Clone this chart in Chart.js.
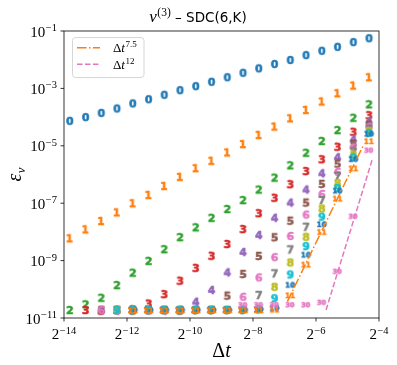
<!DOCTYPE html>
<html>
<head>
<meta charset="utf-8">
<script src="https://cdn.jsdelivr.net/npm/chart.js@4.4.0/dist/chart.umd.min.js"></script>
<style>
  html, body { margin: 0; padding: 0; background: #fff; }
  #chart { display: block; }
</style>
</head>
<body>
<canvas id="chart" width="397" height="365"></canvas>
<script>
// time step sizes (x axis)
const dtValues = [6.9e-5, 9.77e-5, 1.38e-4, 1.95e-4, 2.76e-4, 3.91e-4, 5.52e-4, 7.81e-4, 1.105e-3, 1.5625e-3,
  2.21e-3, 3.125e-3, 4.42e-3, 6.25e-3, 8.84e-3, 0.0125, 0.0177, 0.025, 0.0354, 0.05];

// error per sweep count K (null = not computed)
const err0 = [7.4e-5, 1.0e-4, 1.4e-4, 2.0e-4, 3.0e-4, 4.2e-4, 6.0e-4, 8.7e-4, 1.2e-3, 1.7e-3,
  2.45e-3, 3.5e-3, 5.0e-3, 7.1e-3, 9.8e-3, 1.45e-2, 2.05e-2, 2.8e-2, 4.1e-2, 5.6e-2];
const err1 = [6.0e-9, 1.23e-8, 2.4e-8, 4.8e-8, 1.0e-7, 1.95e-7, 4.0e-7, 8.3e-7, 1.66e-6, 3.0e-6,
  5.9e-6, 1.15e-5, 2.4e-5, 4.7e-5, 9.1e-5, 1.78e-4, 3.5e-4, 6.8e-4, 1.26e-3, 2.45e-3];
const err2 = [1.9e-11, 3.0e-11, 5.1e-11, 1.41e-10, 3.8e-10, 9.8e-10, 2.5e-9, 6.6e-9, 1.45e-8, 3.1e-8,
  6.3e-8, 1.29e-7, 3.0e-7, 7.8e-7, 2.1e-6, 5.75e-6, 1.48e-5, 3.55e-5, 9.5e-5, 2.8e-4];
const err3 = [null, 1.9e-11, 1.8e-11, 1.9e-11, 2.0e-11, 3.2e-11, 6.8e-11, 2.0e-10, 5.6e-10, 1.48e-9,
  3.8e-9, 1.26e-8, 4.5e-8, 1.55e-7, 4.6e-7, 1.32e-6, 3.4e-6, 9.3e-6, 3.1e-5, 1.17e-4];
const err4 = [null, null, 1.9e-11, 1.8e-11, 1.9e-11, 1.9e-11, 1.8e-11, 1.9e-11, 3.7e-11, 9.5e-11,
  3.9e-10, 2.0e-9, 7.8e-9, 3.1e-8, 1.05e-7, 3.0e-7, 1.1e-6, 4.0e-6, 1.66e-5, 7.1e-5];
const err5 = [null, null, 1.9e-11, 1.9e-11, 1.8e-11, 1.9e-11, 1.9e-11, 1.8e-11, 1.9e-11, 1.9e-11,
  6.0e-11, 3.4e-10, 1.45e-9, 6.5e-9, 2.45e-8, 1.05e-7, 4.7e-7, 2.4e-6, 1.2e-5, 5.5e-5];
const err6 = [null, null, 1.9e-11, 1.9e-11, 1.9e-11, 1.8e-11, 1.9e-11, 1.9e-11, 1.9e-11, 1.9e-11,
  1.9e-11, 5.5e-11, 2.6e-10, 1.32e-9, 7.2e-9, 4.0e-8, 2.1e-7, 1.23e-6, 8.7e-6, 4.6e-5];
const err7 = [null, null, null, 1.9e-11, 1.9e-11, 1.9e-11, 1.9e-11, 1.9e-11, 1.9e-11, 1.9e-11,
  1.9e-11, 1.9e-11, 6.3e-11, 3.6e-10, 2.45e-9, 1.51e-8, 1.29e-7, 8.9e-7, 6.3e-6, 3.9e-5];
const err8 = [null, null, null, 1.9e-11, 1.9e-11, 1.9e-11, 1.9e-11, 1.9e-11, 1.9e-11, 1.9e-11,
  1.9e-11, 2.0e-11, 2.1e-11, 1.23e-10, 8.7e-10, 6.8e-9, 6.6e-8, 5.1e-7, 5.0e-6, 3.3e-5];
const err9 = [null, null, null, 1.9e-11, 1.9e-11, 1.9e-11, 1.9e-11, 1.9e-11, 1.9e-11, 1.9e-11,
  1.9e-11, 1.9e-11, 2.0e-11, 4.9e-11, 3.3e-10, 3.2e-9, 3.4e-8, 3.4e-7, 4.0e-6, 2.8e-5];
const err10 = [null, null, null, null, 1.9e-11, 1.9e-11, 1.9e-11, 1.9e-11, 1.9e-11, 1.9e-11,
  1.9e-11, 1.9e-11, 2.0e-11, 2.2e-11, 1.41e-10, 1.58e-9, 1.82e-8, 2.7e-7, 3.4e-6, 2.6e-5];
const err11 = [null, null, null, null, 1.9e-11, 1.9e-11, 1.9e-11, 1.9e-11, 1.9e-11, 1.9e-11,
  1.9e-11, 1.9e-11, 1.9e-11, 2.0e-11, 6.3e-11, 7.4e-10, 1.02e-8, 1.48e-7, 1.66e-6, 1.48e-5];
const err30 = [null, null, null, null, null, null, null, null, null, null,
  null, 2.8e-11, 2.8e-11, 2.8e-11, 2.8e-11, 2.8e-11, 3.4e-11, 4.1e-10, 3.4e-8, 6.8e-6];

const sweepLabels = ['0', '1', '2', '3', '4', '5', '6', '7', '8', '9', '10', '11', '30'];
const sweepErrors = [err0, err1, err2, err3, err4, err5, err6, err7, err8, err9, err10, err11, err30];
const sweepColors = ['#1f77b4', '#ff7f0e', '#2ca02c', '#d62728', '#9467bd', '#8c564b', '#e377c2',
  '#7f7f7f', '#bcbd22', '#17becf', '#1f77b4', '#ff7f0e', '#e377c2'];

// reference slopes
const refDt75 = [0.00831, 0.0439];
const refErr75 = [3.7e-11, 9.8e-6];
const refDt12 = [0.0195, 0.0537];
const refErr12 = [1.9e-11, 3.2e-6];

// tick exponents
const xTickExps = [-14, -12, -10, -8, -6, -4];
const yTickExps = [-1, -3, -5, -7, -9, -11];

const SERIF = '"Liberation Serif", serif';
const SANS = '"DejaVu Sans", sans-serif';

// text markers like matplotlib's "$0$"
function makeMarker(label, color) {
  const probe = document.createElement('canvas').getContext('2d');
  probe.font = 'bold 10px ' + SANS;
  const m0 = probe.measureText(label);
  const w0 = m0.actualBoundingBoxLeft + m0.actualBoundingBoxRight;
  const h0 = m0.actualBoundingBoxAscent + m0.actualBoundingBoxDescent;
  const target = label.length > 1 ? 9.4 : 8.6;
  const size = 10 * target / Math.max(w0, h0);
  const font = 'bold ' + size.toFixed(2) + 'px ' + SANS;
  probe.font = font;
  const m = probe.measureText(label);
  const w = m.actualBoundingBoxLeft + m.actualBoundingBoxRight;
  const h = m.actualBoundingBoxAscent + m.actualBoundingBoxDescent;
  const c = document.createElement('canvas');
  c.width = Math.ceil(w + 4);
  c.height = Math.ceil(h + 4);
  const g = c.getContext('2d');
  g.font = font;
  g.fillStyle = color;
  g.strokeStyle = color;
  g.lineWidth = 0.6;
  g.lineJoin = 'round';
  const tx = (c.width - w) / 2 + m.actualBoundingBoxLeft;
  const ty = (c.height - h) / 2 + m.actualBoundingBoxAscent;
  g.fillText(label, tx, ty);
  g.strokeText(label, tx, ty);
  return c;
}

function drawRuns(ctx, parts, x, y, align) {
  let w = 0;
  parts.forEach(p => { ctx.font = p.font; p.w = ctx.measureText(p.text).width; w += p.w + (p.gap || 0); });
  let cx = align === 'right' ? x - w : align === 'center' ? x - w / 2 : x;
  ctx.textAlign = 'left';
  ctx.textBaseline = 'alphabetic';
  parts.forEach(p => {
    ctx.font = p.font;
    cx += (p.gap || 0);
    ctx.fillText(p.text, cx, y + (p.dy || 0));
    cx += p.w;
  });
}

const datasets = sweepLabels.map((lab, i) => ({
  label: lab,
  data: dtValues.map((x, k) => ({ x: x, y: sweepErrors[i][k] })).filter(p => p.y !== null),
  pointStyle: makeMarker(lab, sweepColors[i]),
  pointRadius: 4,
  showLine: false,
  order: 20 - i
}));

datasets.push({
  label: 'dt^7.5',
  data: refDt75.map((x, k) => ({ x: x, y: refErr75[k] })),
  showLine: true, pointRadius: 0,
  borderColor: '#ff7f0e', borderWidth: 1.5, borderDash: [9.6, 2.4, 1.5, 2.4],
  order: 1
});
datasets.push({
  label: 'dt^12',
  data: refDt12.map((x, k) => ({ x: x, y: refErr12[k] })),
  showLine: true, pointRadius: 0,
  borderColor: '#e377c2', borderWidth: 1.5, borderDash: [5.55, 2.4],
  order: 0
});

const decor = {
  id: 'decor',
  afterDraw(chart) {
    const ctx = chart.ctx;
    const a = chart.chartArea;
    const xs = chart.scales.x, ys = chart.scales.y;
    ctx.save();
    ctx.fillStyle = '#000';
    ctx.strokeStyle = '#000';
    ctx.lineWidth = 0.8;

    // x ticks
    xTickExps.forEach(e => {
      const px = xs.getPixelForValue(Math.pow(2, e));
      ctx.beginPath(); ctx.moveTo(px, a.bottom); ctx.lineTo(px, a.bottom + 3.5); ctx.stroke();
      drawRuns(ctx, [
        { text: '2', font: '15px ' + SERIF },
        { text: '\u2212' + Math.abs(e), font: '10.5px ' + SERIF, dy: -5.5, gap: 0.5 }
      ], px, 339, 'center');
    });
    // y ticks
    yTickExps.forEach(e => {
      const py = ys.getPixelForValue(Math.pow(10, e));
      ctx.beginPath(); ctx.moveTo(a.left - 3.5, py); ctx.lineTo(a.left, py); ctx.stroke();
      drawRuns(ctx, [
        { text: '10', font: '15px ' + SERIF },
        { text: '\u2212' + Math.abs(e), font: '10.5px ' + SERIF, dy: -5.5, gap: 0.5 }
      ], 57, py + 5.5, 'right');
    });

    // frame
    ctx.strokeRect(a.left, a.top, a.right - a.left, a.bottom - a.top);

    // title
    drawRuns(ctx, [
      { text: '\u03bd', font: 'italic 17px ' + SERIF },
      { text: '(3)', font: '11.5px ' + SERIF, dy: -6.5, gap: 0.5 },
      { text: ' \u2013 SDC(6,K)', font: '13.5px ' + SANS }
    ], 198, 22, 'center');

    // axis titles
    drawRuns(ctx, [
      { text: '\u0394', font: '20px ' + SERIF },
      { text: 't', font: 'italic 20px ' + SERIF }
    ], (a.left + a.right) / 2, 357, 'center');
    ctx.save();
    ctx.translate(21, (a.top + a.bottom) / 2);
    ctx.rotate(-Math.PI / 2);
    drawRuns(ctx, [
      { text: '\u03b5', font: 'italic 20px ' + SERIF },
      { text: 'v', font: 'italic 13px ' + SERIF, dy: 4, gap: 0.5 }
    ], 0, 0, 'center');
    ctx.restore();

    // legend
    const lx = 72.5, ly = 37.5, lw = 71.5, lh = 40;
    ctx.beginPath();
    ctx.roundRect(lx, ly, lw, lh, 3);
    ctx.fillStyle = 'rgba(255,255,255,0.8)';
    ctx.fill();
    ctx.strokeStyle = '#cccccc';
    ctx.stroke();
    ctx.lineWidth = 1.5;
    ctx.strokeStyle = '#ff7f0e';
    ctx.setLineDash([9.6, 2.4, 1.5, 2.4]);
    ctx.beginPath(); ctx.moveTo(77, 47.7); ctx.lineTo(100, 47.7); ctx.stroke();
    ctx.strokeStyle = '#e377c2';
    ctx.setLineDash([5.55, 2.4]);
    ctx.beginPath(); ctx.moveTo(77, 64.3); ctx.lineTo(100, 64.3); ctx.stroke();
    ctx.setLineDash([]);
    ctx.fillStyle = '#000';
    drawRuns(ctx, [
      { text: '\u0394', font: '13px ' + SERIF },
      { text: 't', font: 'italic 13px ' + SERIF },
      { text: '7.5', font: '9px ' + SERIF, dy: -5, gap: 0.5 }
    ], 113, 52.3, 'left');
    drawRuns(ctx, [
      { text: '\u0394', font: '13px ' + SERIF },
      { text: 't', font: 'italic 13px ' + SERIF },
      { text: '12', font: '9px ' + SERIF, dy: -5, gap: 0.5 }
    ], 113, 68.9, 'left');
    ctx.restore();
  }
};

new Chart(document.getElementById('chart').getContext('2d'), {
  type: 'scatter',
  data: { datasets: datasets },
  options: {
    responsive: false,
    animation: false,
    layout: { padding: { left: 64, right: 18, top: 31, bottom: 47 } },
    plugins: {
      legend: { display: false },
      tooltip: { enabled: false },
      title: { display: false }
    },
    scales: {
      x: { type: 'logarithmic', min: Math.pow(2, -14), max: Math.pow(2, -4), display: false },
      y: { type: 'logarithmic', min: 1e-11, max: 1e-1, display: false }
    }
  },
  plugins: [decor]
});
</script>
</body>
</html>
